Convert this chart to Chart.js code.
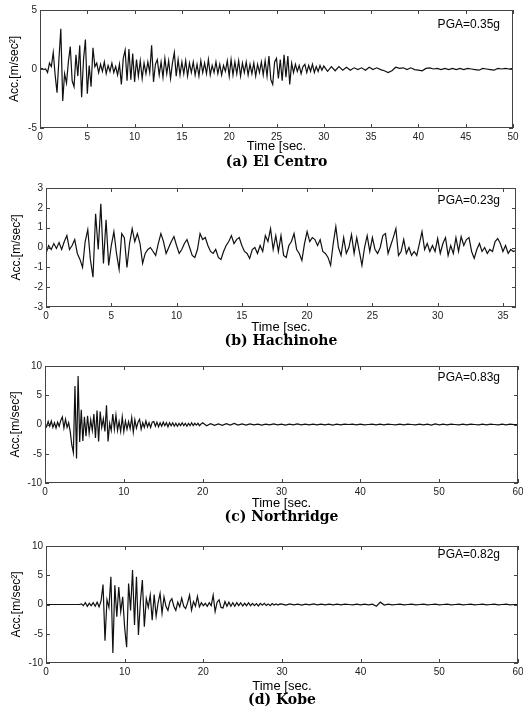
<!DOCTYPE html>
<html>
<head>
<meta charset="utf-8">
<title>Ground acceleration records</title>
<script src="https://cdn.jsdelivr.net/npm/chart.js@4.4.1/dist/chart.umd.min.js"></script>
<style>
  body { margin: 0; background: #fff; }
  #wrap { position: relative; width: 523px; height: 708px; }
  canvas { position: absolute; left: 0; }
</style>
</head>
<body>
<div id="wrap">
  <canvas id="elcentro" width="523" height="175" style="top:0"></canvas>
  <canvas id="hachinohe" width="523" height="175" style="top:175px"></canvas>
  <canvas id="northridge" width="523" height="175" style="top:350px"></canvas>
  <canvas id="kobe" width="523" height="183" style="top:525px"></canvas>
</div>
<script>
// ==================== RECORD DATA (m/sec^2) ====================

// El Centro: 0..29.8 s every 0.2 s, then 30..50 s every 0.4 s
const elCentroDt = 0.2;
const elCentroAcc = [
  0, 0.05, -0.05, 0, -0.3, 0.5, 0.2, 1.4, -0.5, -2.0,
  0.8, 3.4, -2.7, -0.4, -1.2, 0.6, 1.9, -1.0, -1.5, 1.2,
  -0.6, 2.0, -2.4, 0.8, 2.5, -2.1, 0.3, -1.5, 1.8, 0.2,
  0.5, -0.3, 0.4, -0.2, 0.6, -0.4, 0.3, -0.2, 0.5, -0.3,
  0.2, -0.5, 0.4, -1.3, 0.9, 1.6, -1.0, 1.7, -0.9, 1.3,
  -1.1, 0.8, -0.6, 0.7, -0.8, 0.5, -0.4, 0.6, -0.3, 2.0,
  -1.1, 0.4, 0.8, -0.5, 0.6, -0.7, 0.9, -0.4, 0.7, -0.8,
  0.5, 1.4, -0.6, 0.8, -0.5, 0.6, -0.4, 0.7, -0.6, 0.5,
  -0.3, 0.6, -0.5, 0.4, -0.6, 0.7, -0.3, 0.5, -0.4, 0.8,
  -0.5, 0.3, -0.3, 0.6, -0.4, 0.4, -0.5, 0.3, -0.2, 0.7,
  -0.6, 0.8, -0.5, 0.6, -0.4, 0.7, -0.6, 0.5, -0.3, 0.6,
  -0.5, 0.4, -0.4, 0.5, -0.6, 0.4, -0.3, 0.6, -0.5, 0.7,
  -0.6, 1.1, -0.9, -1.3, 0.6, 0.9, -0.8, 0.8, -1.0, 1.2,
  -0.7, 1.1, -1.3, 0.5, -0.3, 0.4, -0.2, 0.3, -0.4, 0.2,
  0.4, -0.3, 0.3, -0.2, 0.4, -0.3, 0.2, -0.2, 0.3, -0.1
];
const elCentroTailStart = 30;
const elCentroTailDt = 0.4;
const elCentroTail = [
  0.25, -0.2, 0.2, -0.15, 0.2,
  -0.1, 0.15, -0.1, 0.1, -0.05,
  0.1, -0.1, 0.15, -0.05, 0.1,
  -0.05, -0.15, -0.3, -0.15, 0.15,
  0.05, 0.1, -0.05, 0.1, -0.05,
  -0.1, -0.15, 0.05, 0.1, 0,
  0.05, -0.05, 0.05, -0.05, 0.05,
  -0.05, 0.05, -0.05, 0.05, 0,
  -0.05, -0.1, 0.05, 0, -0.05,
  -0.1, 0.05, 0, 0.05, 0,
  0.05
];

// Hachinohe: 0..36 s every 0.2 s
const hachinoheDt = 0.2;
const hachinoheAcc = [
  -0.3, 0.1, -0.1, 0.2, -0.05, 0.25, -0.1, 0.3, 0.6, -0.1,
  0.1, 0.4, -0.3, -0.6, -1.0, 0.3, 0.9, -0.6, -1.5, 1.7,
  -0.1, 2.2, -0.8, 1.4, -0.9, 0.1, 0.8, -0.3, -1.1, 0.7,
  0.5, -1.0, 0.2, 0.95, 0.3, 0.7, 0.2, -0.8, -0.3, -0.1,
  0.0, -0.2, -0.4, 0.2, 0.7, 0.3, -0.3, 0.0, 0.3, 0.55,
  0.1, -0.3, -0.1, 0.2, 0.4, 0.0, -0.4, -0.5, -0.1, 0.7,
  0.4, 0.5, 0.1, -0.2, -0.3, -0.1, -0.5, -0.6, -0.2, 0.1,
  0.3, 0.6, 0.2, 0.4, 0.5, 0.1, -0.2, -0.3, -0.55, -0.1,
  0.0, -0.3, 0.1, -0.2, 0.6, 0.3, 0.95, -0.1, 0.6, -0.2,
  0.6, -0.4, -0.5, 0.1, 0.3, 0.7, -0.1, -0.3, -0.65, 0.2,
  0.8, 0.3, 0.5, 0.4, 0.1, 0.4, -0.2, -0.3, -0.5, -0.9,
  0.2, 1.05, 0.0, -0.4, 0.5, -0.3, 0.0, 0.65, -0.3, 0.5,
  -0.2, -0.9, 0.0, 0.6, -0.2, 0.5, -0.1, -0.3, 0.0, 0.6,
  0.7, -0.3, 0.1, 0.5, 0.95, -0.4, -0.2, 0.4, -0.3, 0.0,
  -0.4, -0.2, -0.4, 0.2, 0.8, -0.1, 0.2, -0.2, 0.1, -0.2,
  0.45, -0.3, 0.2, 0.5, -0.4, 0.1, -0.3, 0.5, -0.2, 0.55,
  0.1, 0.4, 0.5, -0.2, -0.55, -0.1, 0.2, -0.2, 0.0, -0.3,
  -0.1, -0.2, 0.3, 0.45, 0.2, -0.2, 0.1, -0.3, -0.1, -0.2,
  -0.15
];

// Northridge: 0..19.8 s every 0.2 s, then 20..60 s every 0.5 s
const northridgeDt = 0.2;
const northridgeAcc = [
  0.2, -0.4, 0.5, -0.3, 0.6, -0.5, 0.3, -0.6, 0.4, -0.3,
  0.7, 1.3, -0.6, 0.9, -0.5, 0.3, -1.2, -3.5, -4.8, 6.6,
  -5.8, 8.3, -3.0, 2.5, -2.8, 1.3, -2.0, 1.5, -1.5, 0.8,
  -1.0, 1.8, -2.3, 2.4, -2.9, 2.2, -0.5, 1.0, -1.2, 3.3,
  -2.9, 0.2, -1.0, 1.8, -0.8, 1.6, -1.0, 0.5, -1.2, 1.3,
  -1.2, 0.6, -0.8, 0.5, -0.7, 1.2, -1.3, 0.8, -0.6, 0.4,
  0.9, -0.8, 0.3, -0.5, 0.6, -0.4, 0.3, -0.5, 0.4, 0.5,
  -0.3, 0.4, -0.4, 0.3, -0.3, 0.4, -0.2, 0.3, -0.4, 0.3,
  -0.2, 0.3, -0.3, 0.2, -0.3, 0.2, -0.2, 0.3, -0.2, 0.2,
  -0.3, 0.2, -0.2, 0.3, -0.2, 0.2, -0.1, 0.2, -0.2, 0.1
];
const northridgeTailStart = 20;
const northridgeTailDt = 0.5;
const northridgeTail = [
  0.3, -0.2, 0.15, -0.15, 0.1, -0.15, 0.15, -0.1, 0.2, -0.1,
  0.1, -0.1, 0.1, -0.05, 0.05, -0.1, 0.05, -0.05, 0.1, -0.05,
  0.05, -0.1, 0.05, -0.05, 0.1, -0.05, 0.05, -0.05, 0.05, -0.05,
  0.05, -0.05, 0.05, -0.1, 0.05, -0.05, 0.05, 0, 0.05, -0.05,
  0.05, -0.05, 0, 0.05, -0.05, 0.05, -0.05, 0.05, 0, -0.05,
  0.05, -0.05, 0.05, 0, -0.05, 0.05, -0.05, 0.05, -0.1, 0.1,
  -0.05, 0.05, -0.05, 0.05, 0, -0.05, 0.05, -0.05, 0.05, 0,
  -0.05, 0.05, -0.05, 0.05, 0, -0.05, 0.05, -0.05, 0.05, 0,
  0
];

// Kobe: 0..29.75 s every 0.25 s, then 30..60 s every 0.5 s
const kobeDt = 0.25;
const kobeAcc = [
  0, 0, 0, 0, 0, 0, 0, 0,
  0, 0, 0, 0, 0, 0, 0, 0,
  0, 0, 0.1, -0.2, 0.3, -0.3, 0.2, -0.2,
  0.3, -0.3, 0.4, -0.4, 0.6, 3.4, -6.2, 0.8,
  -0.5, 4.75, -8.3, 3.3, -2.1, 3.0, -1.2, 1.3,
  -4.0, -7.3, 3.6, -1.0, 5.9, -3.5, 4.75, -5.2,
  0.5, 4.2, -3.8, 1.0, -0.5, 1.6, -2.7, 1.7,
  -2.0, 0.3, 1.9, -1.5, 1.3, -0.3, -1.0, 0.5,
  1.0, -0.3, -1.0, 0.4, -0.4, 1.1, -0.3, -0.7,
  0.3, 1.6, -0.95, 0.5, -0.3, 1.4, -0.4, 0.3,
  -0.2, 0.2, -0.3, 0.3, -0.2, 1.6, -1.2, 0.4,
  0.8, -0.5, -0.6, 0.5, -0.3, 0.4, -0.3, 0.3,
  -0.3, 0.3, -0.2, 0.3, -0.25, 0.2, -0.2, 0.3,
  -0.2, 0.2, -0.2, 0.15, -0.25, 0.2, -0.1, 0.2,
  -0.15, 0.1, -0.2, 0.15, -0.1, 0.1, -0.1, 0.1
];
const kobeTailStart = 30;
const kobeTailDt = 0.5;
const kobeTail = [
  0.05, -0.1, 0.1, -0.05, 0.05, -0.1, 0.05, -0.05, 0.1, -0.05,
  0.05, -0.05, 0.05, -0.05, 0.05, -0.05, 0.05, 0, -0.05, 0.05,
  -0.05, 0.05, -0.05, 0.05, -0.3, 0.4, -0.1, 0.05, -0.05, 0,
  0.05, -0.05, 0, 0.05, -0.05, 0, 0.05, -0.05, 0, 0.05,
  -0.05, 0, 0.05, -0.05, 0, 0.05, -0.05, 0, 0.05, -0.05,
  0, 0.05, -0.05, 0, 0.05, -0.05, 0, 0.05, -0.05, 0,
  0
];

const captions = ['(a) El Centro', '(b) Hachinohe', '(c) Northridge', '(d) Kobe'];
const pgaLabels = ['PGA=0.35g', 'PGA=0.23g', 'PGA=0.83g', 'PGA=0.82g'];
const xMaxes = [50, 36, 60, 60];
const xSteps = [5, 5, 10, 10];
const yLimits = [5, 3, 10, 10];
const ySteps = [5, 1, 5, 5];

// turn sampled values into {x, y} points
function series(head, dt, tail, tailStart, tailDt) {
    let pts = head.map((v, i) => ({ x: +(i * dt).toFixed(2), y: v }));
    if (tail) {
        tail.forEach((v, i) => pts.push({ x: +(tailStart + i * tailDt).toFixed(2), y: v }));
    }
    return pts;
}

const records = [
    series(elCentroAcc, elCentroDt, elCentroTail, elCentroTailStart, elCentroTailDt),
    series(hachinoheAcc, hachinoheDt),
    series(northridgeAcc, northridgeDt, northridgeTail, northridgeTailStart, northridgeTailDt),
    series(kobeAcc, kobeDt, kobeTail, kobeTailStart, kobeTailDt)
];

// ==================== LAYOUT (canvas-local pixels) ====================
const layouts = [
    { id: 'elcentro',   h: 175, top: 10, bottom: 128, left: 40, right: 513, timeY: 146, capY: 162, yTitleX: 15, pgaY: 25 },
    { id: 'hachinohe',  h: 175, top: 13, bottom: 132, left: 46, right: 516, timeY: 152, capY: 166, yTitleX: 17, pgaY: 26 },
    { id: 'northridge', h: 175, top: 16, bottom: 133, left: 45, right: 518, timeY: 153, capY: 167, yTitleX: 16, pgaY: 28 },
    { id: 'kobe',       h: 183, top: 21, bottom: 138, left: 46, right: 518, timeY: 161, capY: 175, yTitleX: 17, pgaY: 30 }
];

Chart.defaults.font.family = '"Liberation Sans", Arial, Helvetica, sans-serif';
Chart.defaults.color = '#000';

// box around the plot, inward tick marks, PGA note
const frameTicks = {
    id: 'frameTicks',
    afterDatasetsDraw(chart, args, opts) {
        const { ctx, chartArea: a, scales: { x, y } } = chart;
        ctx.save();
        ctx.strokeStyle = '#444';
        ctx.lineWidth = 1;
        ctx.beginPath();
        x.ticks.forEach(t => {
            let px = Math.round(x.getPixelForValue(t.value)) + 0.5;
            ctx.moveTo(px, a.bottom); ctx.lineTo(px, a.bottom - 4);
            ctx.moveTo(px, a.top); ctx.lineTo(px, a.top + 4);
        });
        y.ticks.forEach(t => {
            let py = Math.round(y.getPixelForValue(t.value)) + 0.5;
            ctx.moveTo(a.left, py); ctx.lineTo(a.left + 4, py);
            ctx.moveTo(a.right, py); ctx.lineTo(a.right - 4, py);
        });
        ctx.stroke();
        ctx.strokeRect(a.left + 0.5, a.top + 0.5, a.width - 1, a.height - 1);

        ctx.fillStyle = '#000';
        ctx.font = '12px "Liberation Sans", Arial, sans-serif';
        ctx.textAlign = 'right';
        ctx.textBaseline = 'middle';
        ctx.fillText(opts.text, opts.x, opts.y);
        ctx.restore();
    }
};

function makeChart(k) {
    let p = layouts[k];
    new Chart(document.getElementById(p.id), {
        type: 'line',
        data: {
            datasets: [{
                data: records[k],
                borderColor: '#111',
                borderWidth: 1.2,
                pointRadius: 0,
                tension: 0
            }]
        },
        options: {
            responsive: false,
            animation: false,
            events: [],
            layout: { padding: { left: 0, right: 523 - p.right, top: p.top, bottom: p.h - p.capY - 8.4 } },
            scales: {
                x: {
                    type: 'linear',
                    min: 0,
                    max: xMaxes[k],
                    grid: { display: false, drawTicks: false },
                    border: { display: false },
                    ticks: { stepSize: xSteps[k], includeBounds: false, maxRotation: 0, autoSkip: false, padding: 3, color: '#222', font: { size: 10 } },
                    title: { display: true, text: 'Time [sec.', font: { size: 13, lineHeight: 1 }, padding: { top: 0, bottom: p.capY - p.timeY - 14.9 } },
                    afterFit: s => { s.height = p.capY - 8.4 - p.bottom; s.paddingLeft = 0; s.paddingRight = 0; }
                },
                y: {
                    min: -yLimits[k],
                    max: yLimits[k],
                    grid: { display: false, drawTicks: false },
                    border: { display: false },
                    ticks: { stepSize: ySteps[k], padding: 3, color: '#222', font: { size: 10 } },
                    title: { display: true, text: 'Acc.[m/sec²]', font: { size: 12, lineHeight: 1 }, padding: { top: p.yTitleX - 6, bottom: 0 } },
                    afterFit: s => { s.width = p.left; s.paddingTop = 0; s.paddingBottom = 0; }
                }
            },
            plugins: {
                legend: { display: false },
                tooltip: { enabled: false },
                title: {
                    display: true,
                    position: 'bottom',
                    fullSize: false,
                    text: captions[k],
                    color: '#000',
                    padding: 0,
                    font: { family: '"DejaVu Serif", serif', size: 14, weight: 'bold', lineHeight: 1.2 }
                },
                frameTicks: { text: pgaLabels[k], x: 500, y: p.pgaY }
            }
        },
        plugins: [frameTicks]
    });
}

for (let k = 0; k < 4; k++) makeChart(k);
</script>
</body>
</html>
